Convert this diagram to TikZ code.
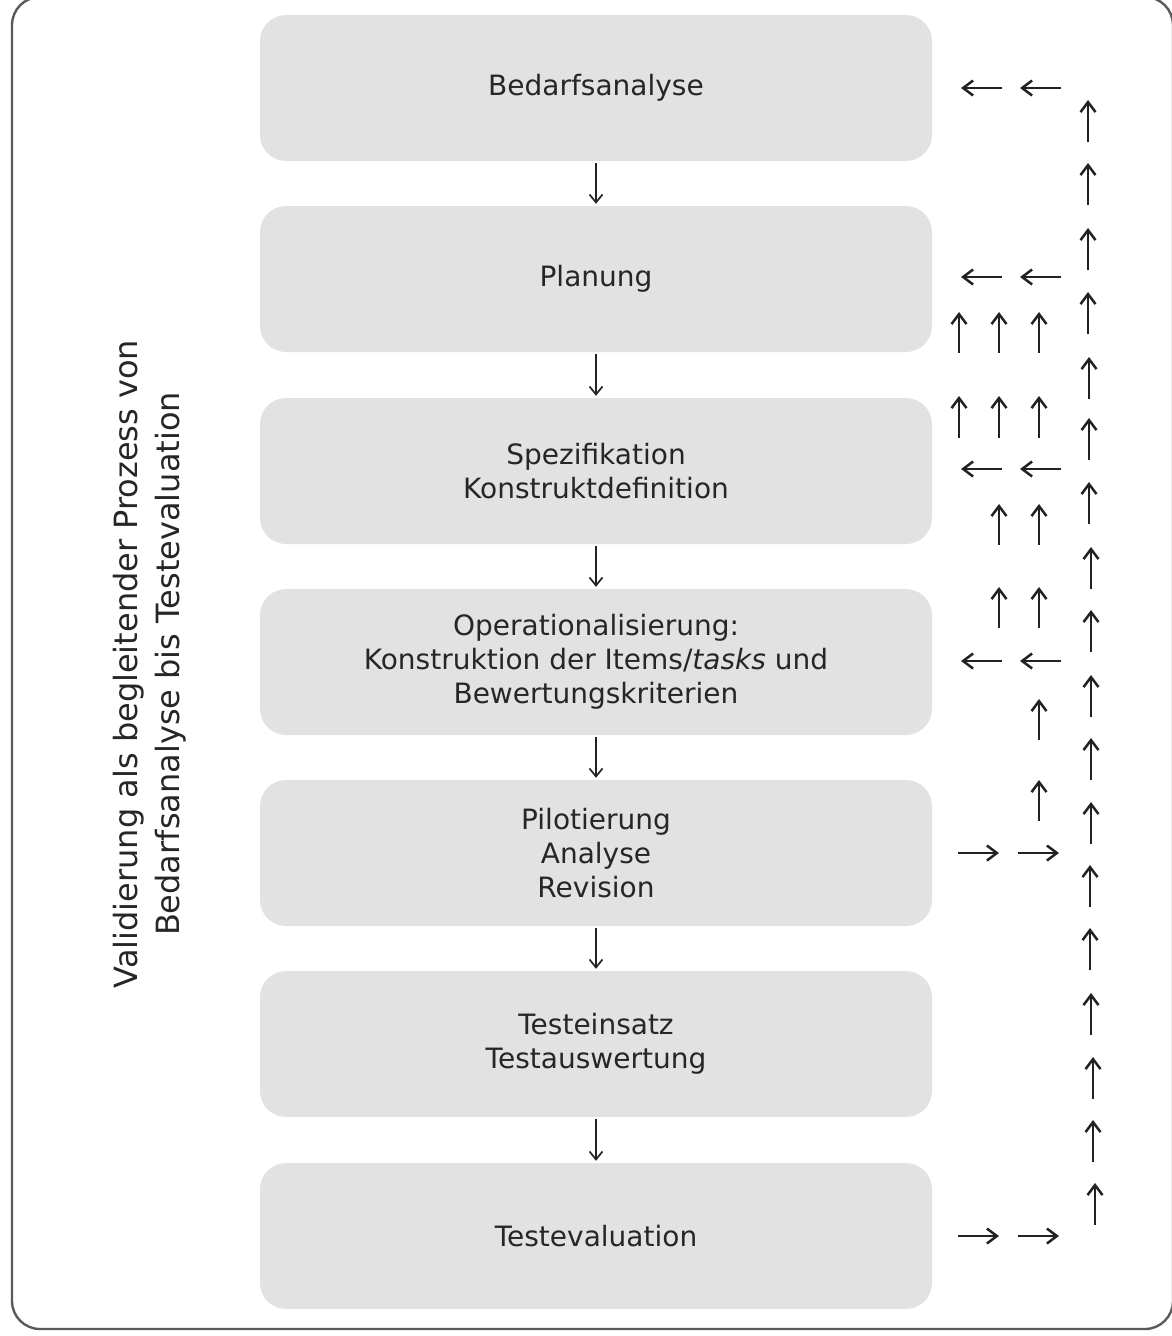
\documentclass[tikz,border=0pt]{standalone}
\usepackage{fontspec}
\setmainfont{DejaVu Sans}
\usepackage{xcolor}
\usepackage{tikz}
\usetikzlibrary{arrows.meta, positioning}

\definecolor{boxgray}{HTML}{E2E2E2}
\definecolor{textgray}{HTML}{262626}
\definecolor{framegray}{HTML}{5A5A5A}
\definecolor{arrowgray}{HTML}{222222}

\begin{document}
\begin{tikzpicture}[
    x=1pt, y=-1pt,
    phase/.style={rectangle, rounded corners=26pt, fill=boxgray, minimum width=672pt, minimum height=146pt, align=center, text=textgray, font=\fontsize{28}{34}\selectfont},
    flow/.style={-{Straight Barb[length=8pt, width=13pt]}, line width=1.7pt, draw=arrowgray, shorten <=2pt, shorten >=2pt},
    tick/.style={-{Straight Barb[length=10pt, width=15pt]}, line width=2.5pt, draw=arrowgray},
    frame/.style={draw=framegray, line width=2.4pt, rounded corners=28pt},
    sidelabel/.style={rotate=90, align=center, text=textgray, font=\fontsize{32}{42}\selectfont}
]
\useasboundingbox (0,0) rectangle (1171,1336);

% Frame
\draw[frame] (12,-3) rectangle (1173,1329);

% Side label
\node[sidelabel] (valid) at (150, 664) {Validierung als begleitender Prozess von\\Bedarfsanalyse bis Testevaluation};

% Phases
\node[phase] (bedarf) at (596, 88) {Bedarfsanalyse};
\node[phase] (planung) at (596, 279) {Planung};
\node[phase] (spez) at (596, 471) {Spezifikation\\Konstruktdefinition};
\node[phase] (oper) at (596, 662) {Operationalisierung:\\Konstruktion der Items/\textit{tasks} und\\Bewertungskriterien};
\node[phase] (pilot) at (596, 853) {Pilotierung\\Analyse\\Revision};
\node[phase] (einsatz) at (596, 1044) {Testeinsatz\\Testauswertung};
\node[phase] (eval) at (596, 1236) {Testevaluation};

% Flow
\draw[flow] (bedarf) -- (planung);
\draw[flow] (planung) -- (spez);
\draw[flow] (spez) -- (oper);
\draw[flow] (oper) -- (pilot);
\draw[flow] (pilot) -- (einsatz);
\draw[flow] (einsatz) -- (eval);

% Feedback - left arrows
\draw[tick] (1002, 88) -- (961, 88);
\draw[tick] (1061, 88) -- (1020, 88);
\draw[tick] (1002, 277) -- (961, 277);
\draw[tick] (1061, 277) -- (1020, 277);
\draw[tick] (1002, 469) -- (961, 469);
\draw[tick] (1061, 469) -- (1020, 469);
\draw[tick] (1002, 661) -- (961, 661);
\draw[tick] (1061, 661) -- (1020, 661);

% Feedback - right arrows
\draw[tick] (958, 853) -- (999, 853);
\draw[tick] (1018, 853) -- (1059, 853);
\draw[tick] (958, 1236) -- (999, 1236);
\draw[tick] (1018, 1236) -- (1059, 1236);

% Feedback - short up arrows
\draw[tick] (959, 353) -- (959, 312);
\draw[tick] (999, 353) -- (999, 312);
\draw[tick] (1039, 353) -- (1039, 312);
\draw[tick] (959, 438) -- (959, 396);
\draw[tick] (999, 438) -- (999, 396);
\draw[tick] (1039, 438) -- (1039, 396);
\draw[tick] (999, 545) -- (999, 504);
\draw[tick] (1039, 545) -- (1039, 504);
\draw[tick] (999, 628) -- (999, 587);
\draw[tick] (1039, 628) -- (1039, 587);
\draw[tick] (1039, 740) -- (1039, 699);
\draw[tick] (1039, 821) -- (1039, 780);

% Feedback - long column
\draw[tick] (1088, 142) -- (1088, 100);
\draw[tick] (1088, 205) -- (1088, 163);
\draw[tick] (1088, 270) -- (1088, 228);
\draw[tick] (1088, 334) -- (1088, 292);
\draw[tick] (1089, 399) -- (1089, 357);
\draw[tick] (1089, 460) -- (1089, 418);
\draw[tick] (1089, 524) -- (1089, 482);
\draw[tick] (1091, 589) -- (1091, 547);
\draw[tick] (1091, 652) -- (1091, 610);
\draw[tick] (1091, 717) -- (1091, 675);
\draw[tick] (1091, 780) -- (1091, 738);
\draw[tick] (1091, 844) -- (1091, 802);
\draw[tick] (1090, 907) -- (1090, 865);
\draw[tick] (1090, 970) -- (1090, 928);
\draw[tick] (1091, 1035) -- (1091, 993);
\draw[tick] (1093, 1099) -- (1093, 1057);
\draw[tick] (1093, 1162) -- (1093, 1120);
\draw[tick] (1095, 1225) -- (1095, 1183);

\end{tikzpicture}
\end{document}
